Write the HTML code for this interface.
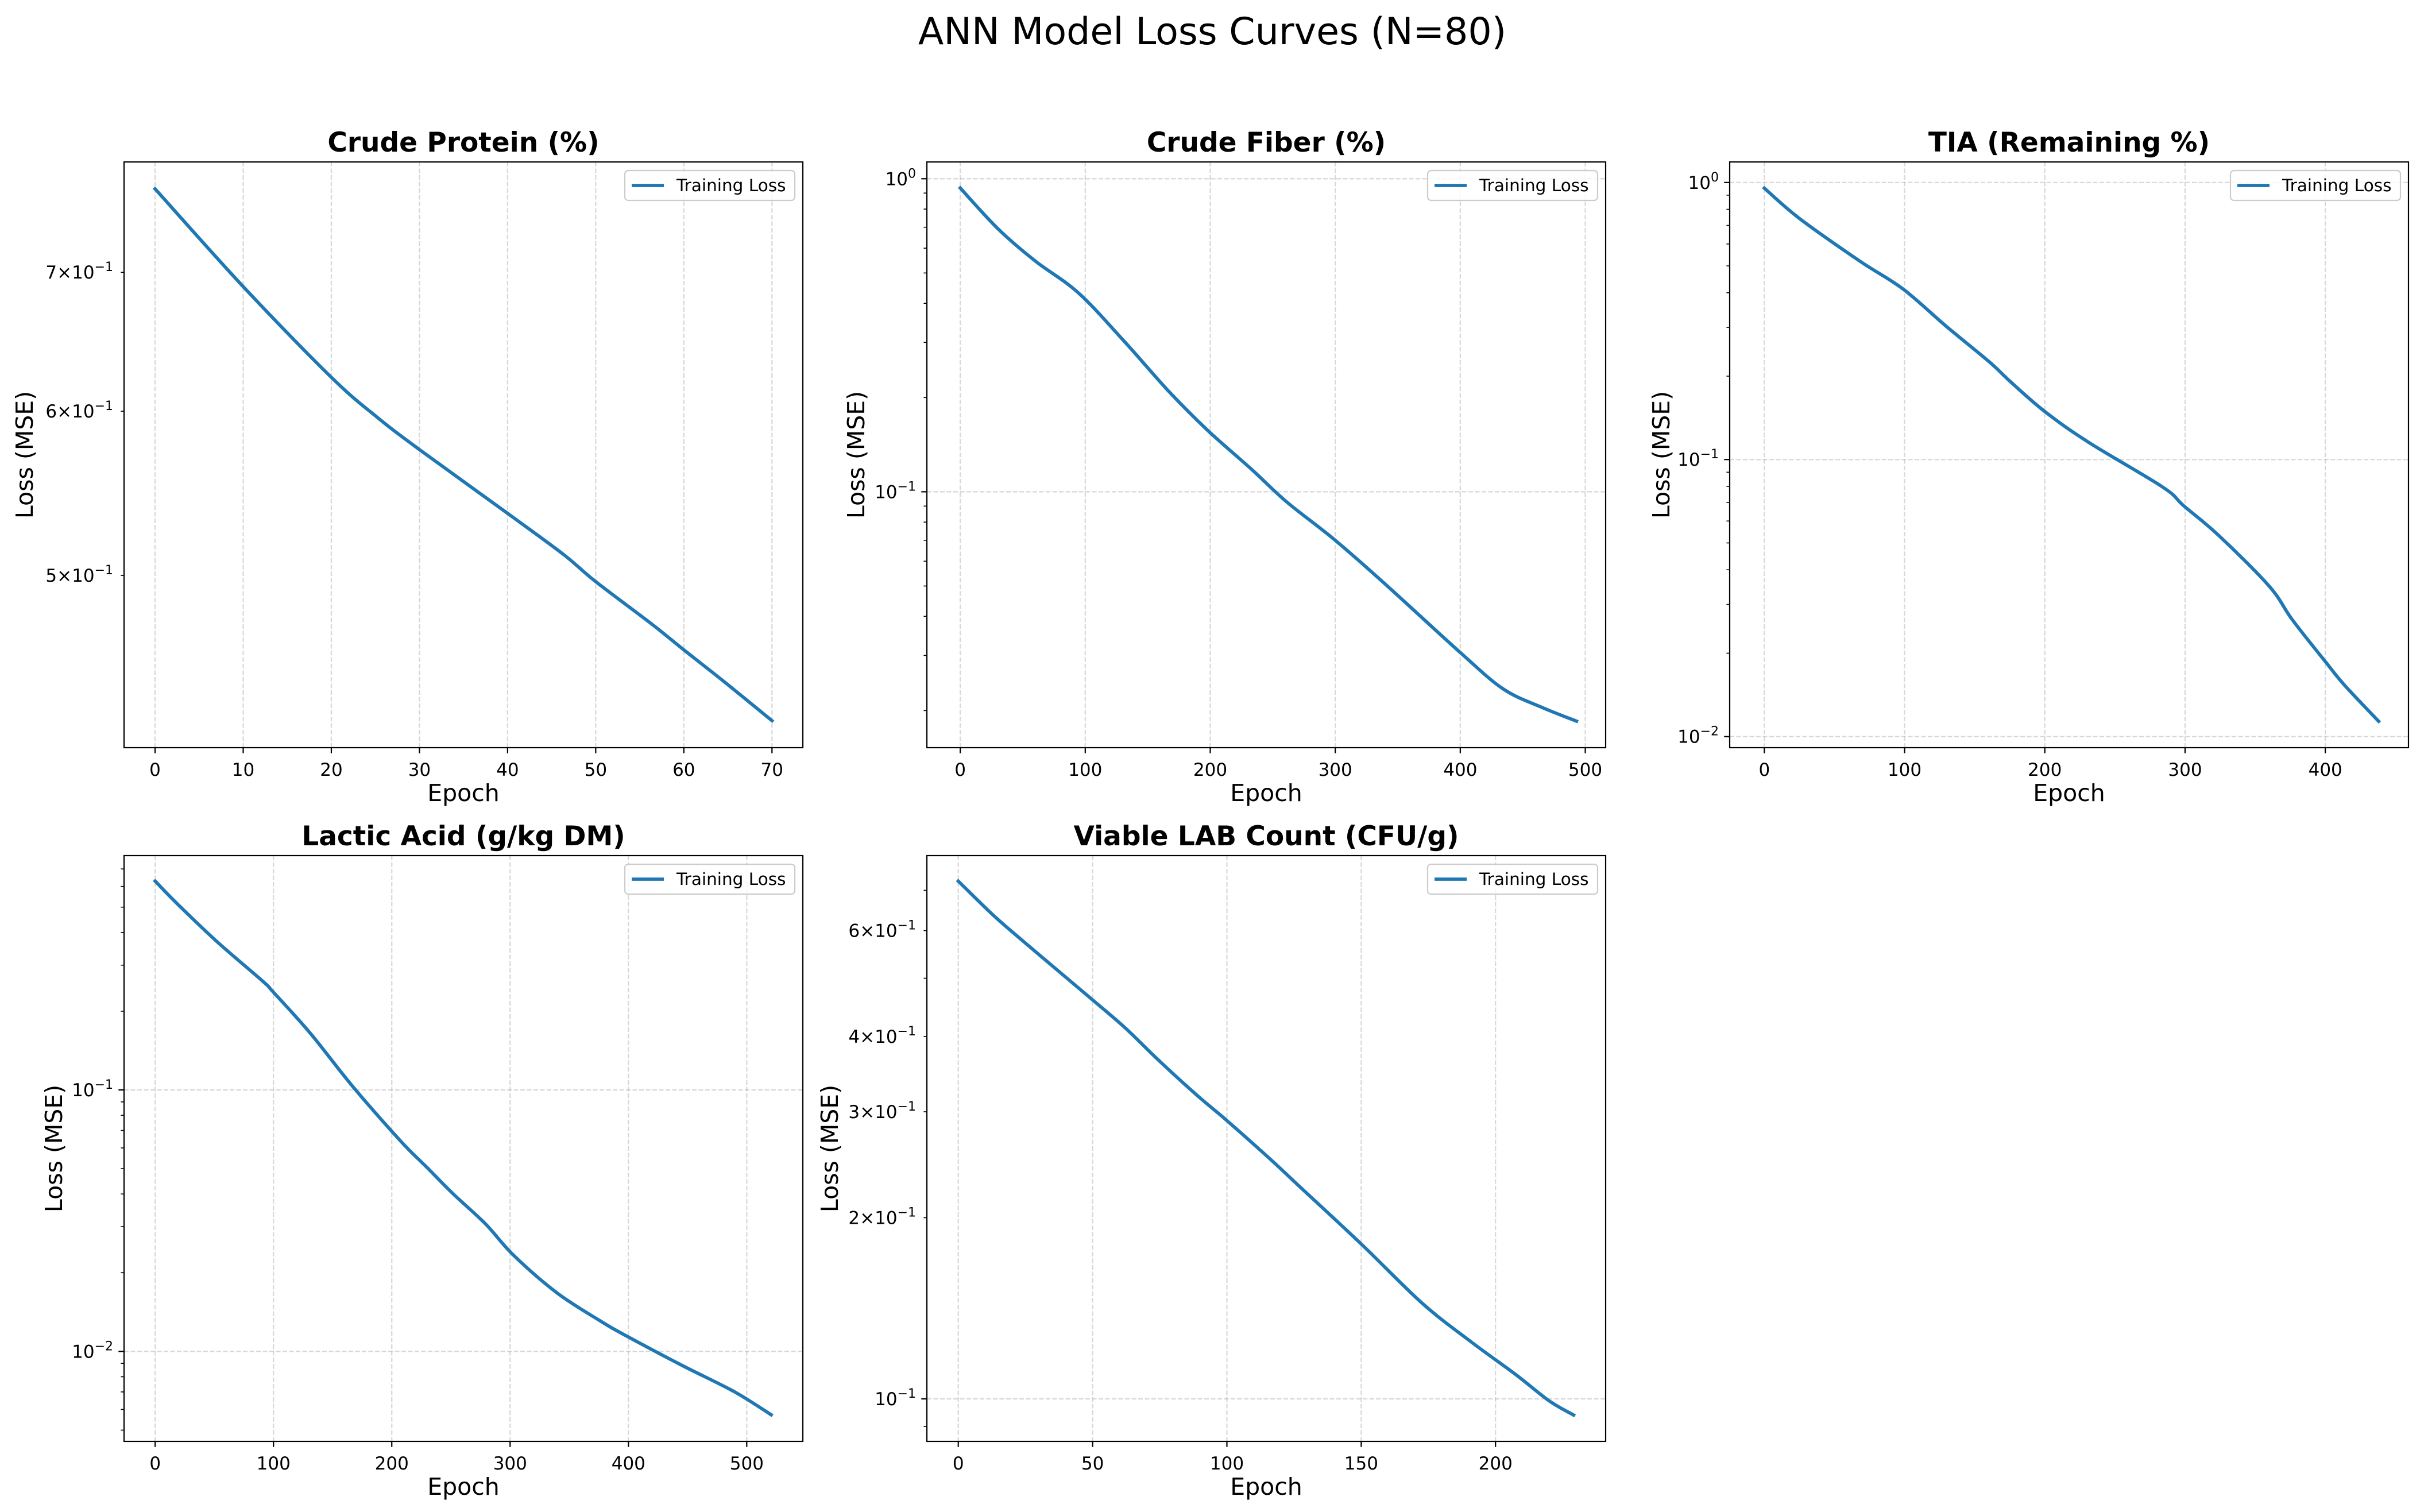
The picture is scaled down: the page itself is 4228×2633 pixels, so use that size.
<!DOCTYPE html>
<html><head><meta charset="utf-8"><style>
html,body{margin:0;padding:0;background:#fff;}
svg{display:block;font-family:"DejaVu Sans","Liberation Sans",sans-serif;}
</style></head><body>
<svg id="fig" width="4228" height="2633" viewBox="0 0 4228 2633" xmlns="http://www.w3.org/2000/svg">
<rect width="4228" height="2633" fill="#fff"/>
<text x="2111" y="77" font-size="65" text-anchor="middle" fill="#000">ANN Model Loss Curves (N=80)</text>
</svg>
<script>
// ---- data (epoch, loss) ----
const protEpochs = [0,10,20,25.2,30,40,46.3,50,56.3,60,64.7,70];
const protLoss   = [0.768,0.689,0.623,0.596,0.575,0.5357,0.512,0.4966,0.474,0.4604,0.444,0.4256];
const fiberEpochs = [0,30.5,60,94.5,131,167,198,233,261,299,340,399,434,465,493];
const fiberLoss   = [0.934,0.690,0.546,0.432,0.303,0.209,0.157,0.118,0.0929,0.0705,0.0507,0.0309,0.0235,0.0205,0.0185];
const tiaEpochs = [0,24.7,67.9,98.8,129.6,160.5,176,200,231,284,299,324,360,376.5,400.6,413.6,438];
const tiaLoss   = [0.954,0.744,0.521,0.413,0.303,0.225,0.190,0.149,0.1156,0.0796,0.0681,0.0532,0.0349,0.0264,0.0185,0.01535,0.01136];
const lacticEpochs = [0,17.6,52.3,90.7,99.9,131,167.6,207.8,229.8,251.7,279,303,339.6,376,398,445.6,489.6,520.7];
const lacticLoss   = [0.629,0.521,0.369,0.261,0.2366,0.165,0.1023,0.0635,0.0505,0.0401,0.0308,0.0233,0.01675,0.0131,0.01148,0.00883,0.00701,0.00572];
const labEpochs = [0,12.9,23.2,37.5,49.8,62,74.4,88.7,100,115.4,127.7,150.2,172.7,191,207.6,219.9,229.1];
const labLoss   = [0.725,0.637,0.581,0.513,0.461,0.414,0.366,0.320,0.290,0.252,0.224,0.1805,0.1442,0.1243,0.1097,0.0993,0.0940];
// tick values
const protXTicks = [0,10,20,30,40,50,60,70];
const fiberXTicks = [0,100,200,300,400,500];
const tiaXTicks = [0,100,200,300,400];
const lacticXTicks = [0,100,200,300,400,500];
const labXTicks = [0,50,100,150,200];
const protMinorLabels = [5,6,7];
const labMinorLabels = [2,3,4,6];
const panelTitles = ["Crude Protein (%)","Crude Fiber (%)","TIA (Remaining %)","Lactic Acid (g/kg DM)","Viable LAB Count (CFU/g)"];

const NS="http://www.w3.org/2000/svg";
const svg=document.getElementById('fig');
function mk(tag,attrs,parent){const e=document.createElementNS(NS,tag);for(const k in attrs)e.setAttribute(k,attrs[k]);(parent||svg).appendChild(e);return e;}
function smoothPath(P){
  let d='M'+P[0][0].toFixed(1)+','+P[0][1].toFixed(1);
  for(let i=0;i<P.length-1;i++){
    const p0=P[i-1]||P[i],p1=P[i],p2=P[i+1],p3=P[i+2]||P[i+1];
    const c1=[p1[0]+(p2[0]-p0[0])/6,p1[1]+(p2[1]-p0[1])/6];
    const c2=[p2[0]-(p3[0]-p1[0])/6,p2[1]-(p3[1]-p1[1])/6];
    d+=' C'+c1[0].toFixed(1)+','+c1[1].toFixed(1)+' '+c2[0].toFixed(1)+','+c2[1].toFixed(1)+' '+p2[0].toFixed(1)+','+p2[1].toFixed(1);
  }
  return d;
}

const panels=[
 {x:216,y:282,ep:protEpochs,ls:protLoss,xr:[-3.52,73.5],yr:[-0.384,-0.1017],xt:protXTicks,ml:protMinorLabels,yl:173,slug:'crude-protein'},
 {x:1614,y:282,ep:fiberEpochs,ls:fiberLoss,xr:[-26.7,516.3],yr:[-1.8175,0.0537],xt:fiberXTicks,ml:[],yl:123,slug:'crude-fiber'},
 {x:3012,y:282,ep:tiaEpochs,ls:tiaLoss,xr:[-24.7,459.3],yr:[-2.040,0.0742],xt:tiaXTicks,ml:[],yl:119,slug:'tia'},
 {x:216,y:1490,ep:lacticEpochs,ls:lacticLoss,xr:[-26.3,547.4],yr:[-2.344,-0.104],xt:lacticXTicks,ml:[],yl:122,slug:'lactic-acid'},
 {x:1614,y:1490,ep:labEpochs,ls:labLoss,xr:[-11.7,241],yr:[-1.0706,-0.0973],xt:labXTicks,ml:labMinorLabels,yl:169,slug:'viable-lab'}
];
const W=1182,H=1020;
panels.forEach((p,i)=>{
  const g=mk('g',{});
  
  
  const sx=v=>p.x+(v-p.xr[0])/(p.xr[1]-p.xr[0])*W;
  const sy=v=>p.y+H-(Math.log10(v)-p.yr[0])/(p.yr[1]-p.yr[0])*H;
  p.xt.forEach(t=>{
    const X=sx(t);
    const l=mk('line',{x1:X,x2:X,y1:p.y,y2:p.y+H,stroke:'#b0b0b0','stroke-opacity':0.5,'stroke-width':2.2,'stroke-dasharray':'8,3.5'},g);
    
    
    mk('line',{x1:X,x2:X,y1:p.y+H,y2:p.y+H+9.7,stroke:'#000','stroke-width':2.2},g);
    const tx=mk('text',{x:X,y:p.y+H+49,'font-size':31,'text-anchor':'middle',fill:'#000'},g);
    tx.textContent=t;
    
    
  });
  const k0=Math.floor(p.yr[0]),k1=Math.ceil(p.yr[1]);
  for(let k=k0;k<=k1;k++){
    for(let m=1;m<=9;m++){
      const v=m*Math.pow(10,k);const lv=Math.log10(v);
      if(lv<p.yr[0]||lv>p.yr[1])continue;
      const Y=sy(v);
      const major=(m===1);
      if(major){
        const gl=mk('line',{x1:p.x,x2:p.x+W,y1:Y,y2:Y,stroke:'#b0b0b0','stroke-opacity':0.5,'stroke-width':2.2,'stroke-dasharray':'8,3.5'},g);
        
        
      }
      mk('line',{x1:p.x-(major?9.7:5.6),x2:p.x,y1:Y,y2:Y,stroke:'#000','stroke-width':major?2.2:1.6},g);
      if(major||p.ml.indexOf(m)>=0){
        const t=mk('text',{x:p.x-19,y:Y+11,'font-size':31,'text-anchor':'end',fill:'#000'},g);
        
        
        const a=document.createElementNS(NS,'tspan');a.textContent=(major?'':m+'\u00d7')+'10';t.appendChild(a);
        const b=document.createElementNS(NS,'tspan');b.setAttribute('dy','-13');b.setAttribute('font-size','22');b.textContent=(k<0?'\u2212':'')+Math.abs(k);
        t.appendChild(b);
      }
    }
  }
  const P=p.ep.map((e,j)=>[sx(e),sy(p.ls[j])]);
  const pl=mk('path',{d:smoothPath(P),fill:'none',stroke:'#1f77b4','stroke-width':5.8,'stroke-linejoin':'round','stroke-linecap':'square'},g);
  
  
  const fr=mk('rect',{x:p.x,y:p.y,width:W,height:H,fill:'none',stroke:'#000','stroke-width':2.2},g);
  
  
  const tt=mk('text',{x:p.x+W/2,y:p.y-18,'font-size':47,'font-weight':'bold','text-anchor':'middle',fill:'#000'},g);
  tt.textContent=panelTitles[i];
  
  
  const xl=mk('text',{x:p.x+W/2,y:p.y+H+93,'font-size':41,'text-anchor':'middle',fill:'#000'},g);
  xl.textContent='Epoch';
  
  
  const cx=p.x-p.yl,cy=p.y+H/2;
  const yl=mk('text',{x:cx,y:cy+14,'font-size':41,'text-anchor':'middle',fill:'#000',transform:`rotate(-90 ${cx} ${cy})`},g);
  yl.textContent='Loss (MSE)';
  
  
  const lg=mk('g',{},g);
  
  
  const lx=p.x+W-14-296,ly=p.y+15;
  mk('rect',{x:lx,y:ly,width:296,height:52,rx:6,fill:'#fff','fill-opacity':0.8,stroke:'#cccccc','stroke-width':2.2},lg);
  mk('line',{x1:lx+12,x2:lx+68,y1:ly+26,y2:ly+26,stroke:'#1f77b4','stroke-width':5.8},lg);
  const lt=mk('text',{x:lx+90,y:ly+36,'font-size':29.5,fill:'#000'},lg);
  lt.textContent='Training Loss';
  
  
});
</script>
</body></html>
